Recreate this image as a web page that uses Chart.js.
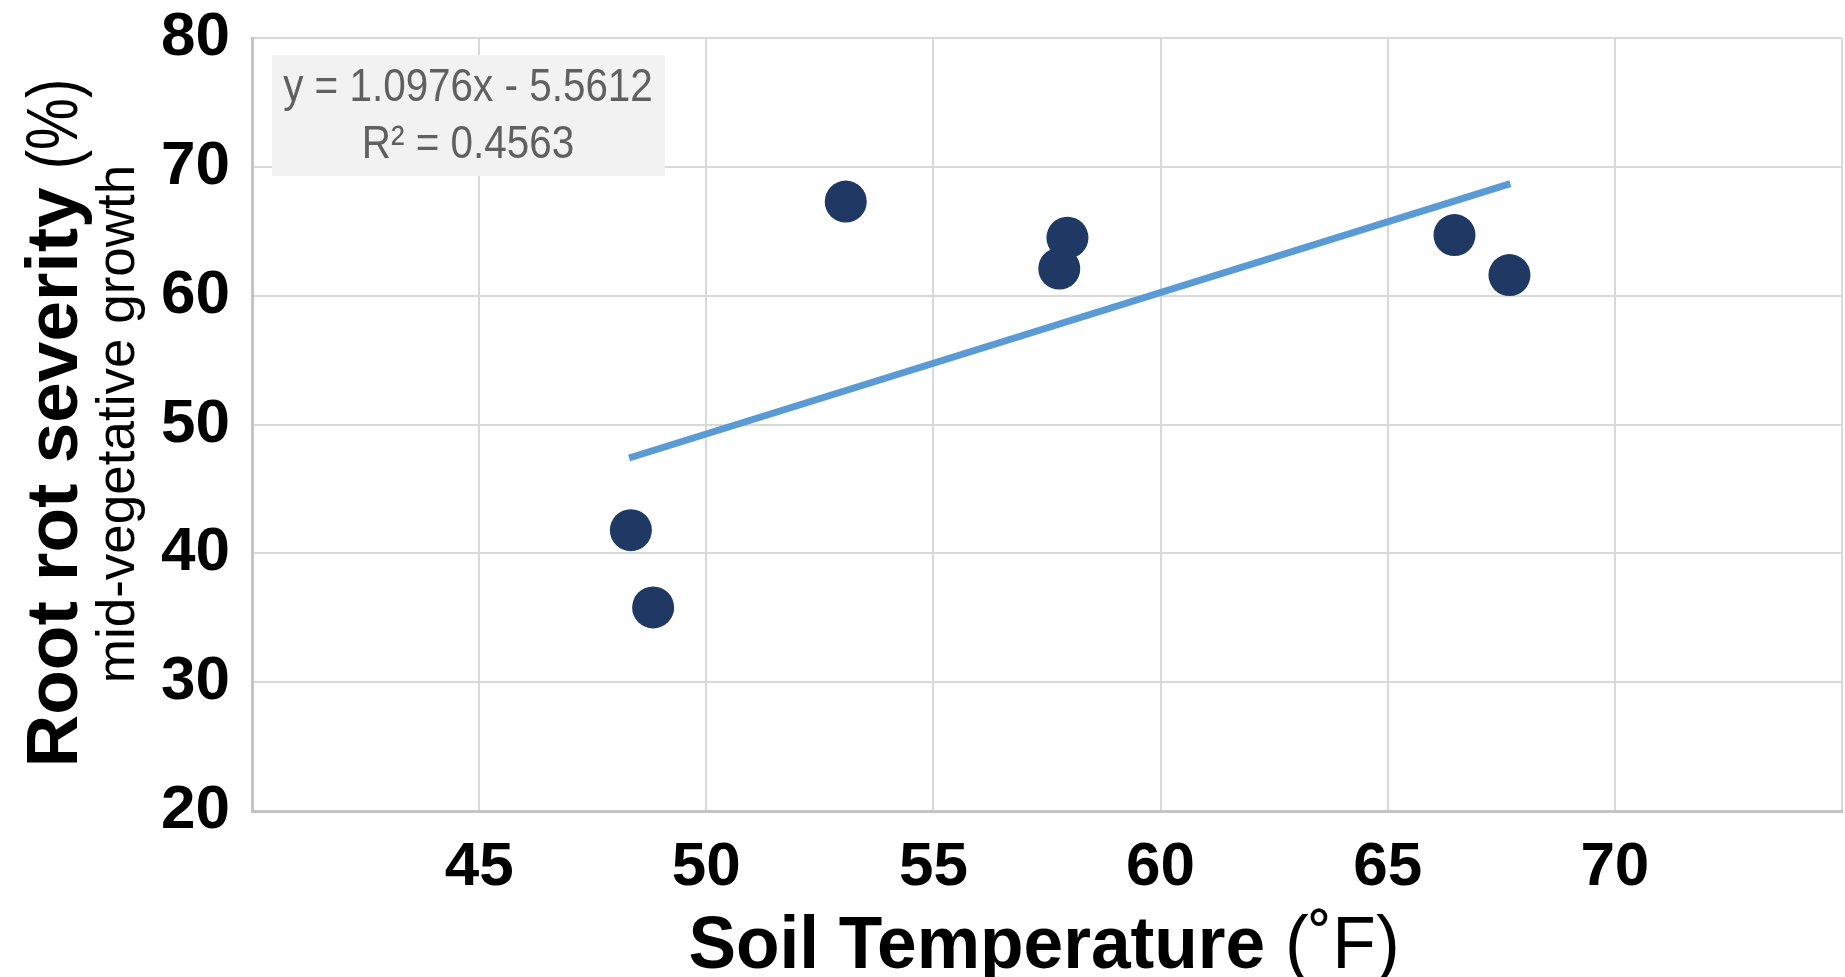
<!DOCTYPE html>
<html>
<head>
<meta charset="utf-8">
<script src="https://cdn.jsdelivr.net/npm/chart.js@4.4.1/dist/chart.umd.min.js"></script>
<style>
  html, body { margin: 0; padding: 0; background: #fff; overflow: hidden; }
  #chart { display: block; }
</style>
</head>
<body>
<canvas id="chart" width="1845" height="977"></canvas>
<script>
// soil temperature (F) vs root rot severity (%)
const soilTemp = [48.34, 48.83, 53.07, 57.95, 57.77, 66.47, 67.68];
const rootRot = [41.8, 35.8, 67.3, 64.5, 62.1, 64.7, 61.6];
// trendline ends, as drawn
const trendX = [48.3, 67.7];
const trendY = [47.4, 68.7];
const xTicks = [45, 50, 55, 60, 65, 70];
const yTicks = [20, 30, 40, 50, 60, 70, 80];
const eqLines = ['y = 1.0976x - 5.5612', 'R\u00b2 = 0.4563'];

const FONT = "'Liberation Sans', Arial, sans-serif";
Chart.defaults.font.family = FONT;

const points = soilTemp.map((x, i) => ({ x: x, y: rootRot[i] }));
const trend = trendX.map((x, i) => ({ x: x, y: trendY[i] }));

// equation box + axis titles
const extras = {
  id: 'extras',
  afterDraw(chart) {
    const ctx = chart.ctx;
    ctx.save();
    // equation label
    ctx.fillStyle = '#f2f2f2';
    ctx.fillRect(272, 55, 393, 121);
    ctx.fillStyle = '#606060';
    ctx.textAlign = 'center';
    ctx.textBaseline = 'middle';
    ctx.font = '47px ' + FONT;
    [88, 145].forEach((cy, i) => {
      ctx.save();
      ctx.translate(468, cy);
      ctx.scale(0.86, 1);
      ctx.fillText(eqLines[i], 0, 0);
      ctx.restore();
    });

    ctx.fillStyle = '#000';
    ctx.textBaseline = 'alphabetic';
    ctx.textAlign = 'left';

    // x title
    ctx.save();
    ctx.translate(1044, 968);
    ctx.scale(0.95, 1);
    ctx.font = 'bold 75px ' + FONT;
    const xb = 'Soil Temperature';
    const wb = ctx.measureText(xb).width;
    ctx.font = '75px ' + FONT;
    const xr = ' (\u02daF)';
    const wr = ctx.measureText(xr).width;
    const x0 = -(wb + wr) / 2;
    ctx.font = 'bold 75px ' + FONT;
    ctx.fillText(xb, x0, 0);
    ctx.font = '75px ' + FONT;
    ctx.fillText(xr, x0 + wb, 0);
    ctx.restore();

    // y title line 1
    ctx.save();
    ctx.translate(77, 423);
    ctx.rotate(-Math.PI / 2);
    ctx.font = 'bold 73px ' + FONT;
    const yb = 'Root rot severity';
    const yw = ctx.measureText(yb).width;
    ctx.font = '73px ' + FONT;
    const yr = '(%)';
    const yrw = ctx.measureText(yr).width * 0.8;
    const gap = 18;
    const y0 = -(yw + gap + yrw) / 2;
    ctx.font = 'bold 73px ' + FONT;
    ctx.fillText(yb, y0, 0);
    ctx.translate(y0 + yw + gap, 0);
    ctx.scale(0.8, 1);
    ctx.font = '73px ' + FONT;
    ctx.fillText(yr, 0, 0);
    ctx.restore();

    // y title line 2
    ctx.save();
    ctx.translate(134, 424);
    ctx.rotate(-Math.PI / 2);
    ctx.textAlign = 'center';
    ctx.font = '53px ' + FONT;
    ctx.fillText('mid-vegetative growth', 0, 0);
    ctx.restore();

    ctx.restore();
  }
};

new Chart(document.getElementById('chart'), {
  type: 'scatter',
  data: {
    datasets: [
      {
        data: points,
        backgroundColor: '#1f3864',
        borderWidth: 0,
        pointRadius: 21,
        pointHoverRadius: 21
      },
      {
        type: 'line',
        data: trend,
        borderColor: '#5b9bd5',
        borderWidth: 7,
        pointRadius: 0,
        fill: false
      }
    ]
  },
  options: {
    responsive: false,
    animation: false,
    layout: { autoPadding: false, padding: { top: 38, right: 3, left: 0, bottom: 0 } },
    plugins: {
      legend: { display: false },
      tooltip: { enabled: false }
    },
    scales: {
      x: {
        type: 'linear',
        min: 40,
        max: 75,
        afterFit: s => {
          s.height = 166;
          s.paddingLeft = 0; s.paddingRight = 0;
          s.paddingTop = 0; s.paddingBottom = 0;
        },
        afterBuildTicks: s => {
          s.ticks = [40].concat(xTicks, [75]).map(v => ({ value: v }));
        },
        ticks: {
          padding: 20,
          color: '#000',
          font: { size: 62, weight: 'bold' },
          maxRotation: 0,
          autoSkip: false,
          callback: v => (xTicks.includes(v) ? String(v) : '')
        },
        grid: { color: '#d9d9d9', lineWidth: 2, drawTicks: false },
        border: { display: true, color: '#c4c4c4', width: 3 }
      },
      y: {
        min: 20,
        max: 80,
        afterFit: s => {
          s.width = 252;
          s.paddingLeft = 0; s.paddingRight = 0;
          s.paddingTop = 0; s.paddingBottom = 0;
        },
        afterBuildTicks: s => {
          s.ticks = yTicks.map(v => ({ value: v }));
        },
        ticks: {
          padding: 22,
          color: '#000',
          font: { size: 62, weight: 'bold' },
          autoSkip: false
        },
        grid: { color: '#d9d9d9', lineWidth: 2, drawTicks: false },
        border: { display: true, color: '#c4c4c4', width: 3 }
      }
    }
  },
  plugins: [extras]
});
</script>
</body>
</html>
